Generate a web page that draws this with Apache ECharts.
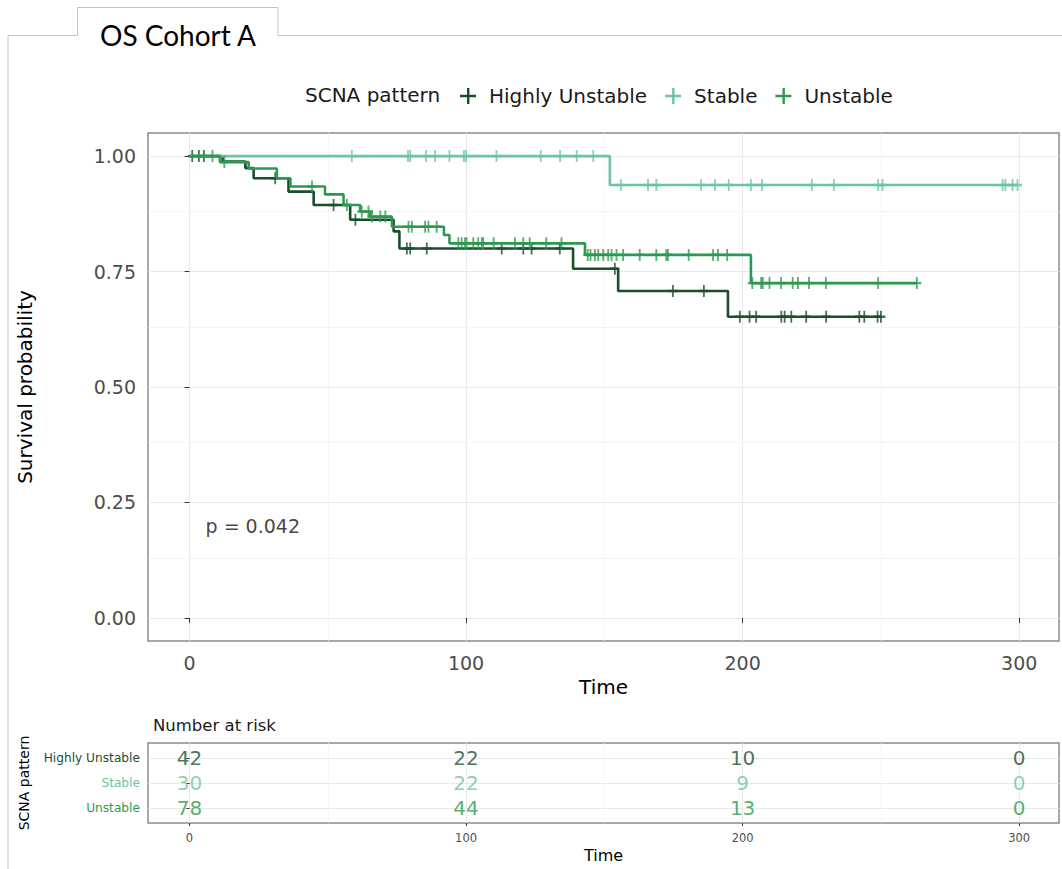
<!DOCTYPE html>
<html>
<head>
<meta charset="utf-8">
<title>OS Cohort A</title>
<script src="https://cdn.jsdelivr.net/npm/echarts@6/dist/echarts.min.js"></script>
<style>
  html, body { margin: 0; padding: 0; background: #ffffff; }
  #chart { width: 1062px; height: 869px; }
</style>
</head>
<body>
<div id="chart"></div>
<script>
// ---- Kaplan–Meier estimates by SCNA pattern ----
// Each step: the time at which a survival level begins, and that level.
const groups = ['Highly Unstable', 'Stable', 'Unstable'];
const groupColors = ['#1a4f2d', '#6cc5a0', '#2c9a4e'];

const huTimes = [0, 12, 20.2, 23.2, 35.8, 44.9, 58.1, 73.8, 75.9, 138.7, 155, 194.7, 250];
const huSurv  = [1, 0.988, 0.974, 0.952, 0.923, 0.894, 0.862, 0.837, 0.80, 0.756, 0.708, 0.652, 0.652];
const huCensor = [1, 3.4, 5.2, 31, 52.1, 60, 78.6, 79.8, 85.8, 112.9, 120.7, 123.7, 133.9, 153.8,
  174.8, 186, 199, 202.5, 204.9, 214, 215.2, 217.6, 223, 230.2, 242.2, 244, 248.8, 250];

const stTimes = [0, 152, 299.4];
const stSurv  = [1, 0.9375, 0.9375];
const stCensor = [58.7, 79, 79.8, 85.5, 88.8, 94, 99.2, 100, 111, 127, 134, 140, 146, 156, 165.8,
  168.8, 185, 190, 195, 203, 207, 225, 233, 249, 250.6, 294, 295, 297.6, 299.4];

const unTimes = [0, 11, 21.4, 31.6, 36.5, 49, 55.7, 61.7, 65.3, 73.2, 92, 94, 143, 203, 263];
const unSurv  = [1, 0.987, 0.973, 0.952, 0.934, 0.917, 0.894, 0.88, 0.869, 0.847, 0.829, 0.811, 0.786, 0.725, 0.725];
const unCensor = [8.3, 12.6, 44.3, 56.9, 62.3, 64.7, 66, 69, 70.8, 79.2, 80.4, 85.2, 86.4, 89.4, 97.2,
  98.4, 99.6, 100.2, 102.6, 104.4, 105.7, 106.2, 110, 117.7, 120.7, 123, 129, 134.5, 144, 145, 146.6,
  147.8, 149.6, 151.4, 152.6, 154.4, 156.8, 162.8, 168.8, 172.4, 173, 180.5, 189.3, 191.1, 194.4,
  203.5, 206.7, 207.3, 209.7, 213.9, 218.1, 220, 224, 230.1, 249, 263];

// ---- axes ----
const xTicks = [0, 100, 200, 300];
const xMinor = [50, 150, 250];
const yTicks = [0, 0.25, 0.5, 0.75, 1];
const yMinor = [0.125, 0.375, 0.625, 0.875];

// ---- number at risk ----
const riskTimes = [0, 100, 200, 300];
const riskHU = [42, 22, 10, 0];
const riskStable = [30, 22, 9, 0];
const riskUnstable = [78, 44, 13, 0];
const riskRows = { 'Highly Unstable': 3, 'Stable': 2, 'Unstable': 1 };

const pValueText = 'p = 0.042';
const pValuePos = [5.8, 0.2];

// ---------------------------------------------------------------
const FONT = 'DejaVu Sans';
const X_MIN = -15, X_MAX = 314.4;
const plusIcon = 'path://M4,0h2v10h-2zM0,4h10v2h-10z';
const legendIcon = 'path://M7,0h2.4v16h-2.4zM0,6.8h16v2.4h-16z';

function survAt(times, surv, t) {
  let s = surv[0];
  for (let i = 0; i < times.length; i++) {
    if (times[i] <= t) s = surv[i]; else break;
  }
  return s;
}

const curveData = [
  { times: huTimes, surv: huSurv, censor: huCensor },
  { times: stTimes, surv: stSurv, censor: stCensor },
  { times: unTimes, surv: unSurv, censor: unCensor }
];
const riskData = [riskHU, riskStable, riskUnstable];

function gridLines(vals, axisKey, major) {
  return vals.map(v => ({
    [axisKey]: v,
    lineStyle: { color: major ? '#e9e9e9' : '#f3f3f3', width: major ? 1.1 : 0.8, type: 'solid' }
  }));
}

const series = [];

// background grid for the survival panel (kept beneath the curves)
series.push({
  type: 'line', xAxisIndex: 0, yAxisIndex: 0, data: [], z: 0, silent: true,
  markLine: {
    z: 0, silent: true, symbol: 'none', animation: false, label: { show: false },
    data: [].concat(
      gridLines(xTicks, 'xAxis', true), gridLines(xMinor, 'xAxis', false),
      gridLines(yTicks, 'yAxis', true), gridLines(yMinor, 'yAxis', false))
  }
});
// background grid for the risk table
series.push({
  type: 'line', xAxisIndex: 1, yAxisIndex: 1, data: [], z: 0, silent: true,
  markLine: {
    z: 0, silent: true, symbol: 'none', animation: false, label: { show: false },
    data: [].concat(
      gridLines(xTicks, 'xAxis', true), gridLines(xMinor, 'xAxis', false),
      gridLines(Object.values(riskRows), 'yAxis', true))
  }
});

groups.forEach((name, gi) => {
  const c = curveData[gi];
  const color = groupColors[gi];
  series.push({
    name: name, type: 'line', step: 'end', xAxisIndex: 0, yAxisIndex: 0,
    showSymbol: false, symbol: 'none', z: 3 + gi,
    lineStyle: { color: color, width: 2.6 },
    itemStyle: { color: color },
    data: c.times.map((t, i) => [t, c.surv[i]])
  });
  series.push({
    name: name, type: 'scatter', xAxisIndex: 0, yAxisIndex: 0, z: 3 + gi,
    symbol: plusIcon, symbolSize: [9, 12],
    itemStyle: { color: color },
    data: c.censor.map(t => [t, survAt(c.times, c.surv, t)])
  });
  // number at risk row
  series.push({
    name: name, type: 'scatter', xAxisIndex: 1, yAxisIndex: 1, z: 5,
    symbolSize: 0, itemStyle: { color: color },
    label: {
      show: true, position: 'inside', color: color, fontSize: 20, fontFamily: FONT,
      formatter: p => String(p.value[2])
    },
    data: riskTimes.map((t, i) => [t, riskRows[name], riskData[gi][i]])
  });
});

// log-rank p-value annotation
series.push({
  type: 'scatter', xAxisIndex: 0, yAxisIndex: 0, symbolSize: 0, z: 6, silent: true,
  label: {
    show: true, position: 'right', distance: 0, color: '#111', fontSize: 19, fontFamily: FONT,
    formatter: () => pValueText
  },
  data: [pValuePos]
});

const tickStyle = { color: '#333333', width: 1 };

const option = {
  animation: false,
  backgroundColor: '#ffffff',
  textStyle: { fontFamily: FONT },
  title: [
    { text: 'OS Cohort A', left: 95, top: 16,
      textStyle: { fontFamily: 'Lato', fontSize: 28, fontWeight: 'normal', color: '#000' } },
    { text: 'SCNA pattern', left: 300, top: 80,
      textStyle: { fontFamily: FONT, fontSize: 20, fontWeight: 'normal', color: '#1a1a1a' } },
    { text: 'Number at risk', left: 148, top: 712,
      textStyle: { fontFamily: FONT, fontSize: 16.5, fontWeight: 'normal', color: '#1a1a1a' } }
  ],
  legend: {
    left: 455, top: 81, itemWidth: 16, itemHeight: 16, itemGap: 18,
    selectedMode: false,
    textStyle: { fontFamily: FONT, fontSize: 20, color: '#1a1a1a', padding: [0, 0, 0, 8] },
    data: groups.map(g => ({ name: g, icon: legendIcon }))
  },
  graphic: [{
    type: 'polyline', silent: true, z: 100,
    shape: { points: [[8, 869], [8, 35.5], [77.5, 35.5], [77.5, 7.5], [278, 7.5], [278, 35.5], [1062, 35.5]] },
    style: { stroke: '#c4c4c4', lineWidth: 1, fill: null }
  }],
  grid: [
    { left: 148, top: 133, width: 911, height: 508, show: true, borderColor: '#8c8c8c', borderWidth: 1.5, backgroundColor: 'transparent' },
    { left: 148, top: 743, width: 911, height: 80, show: true, borderColor: '#8c8c8c', borderWidth: 1.5, backgroundColor: 'transparent' }
  ],
  xAxis: [
    {
      type: 'value', gridIndex: 0, min: X_MIN, max: X_MAX,
      axisLine: { show: false }, splitLine: { show: false },
      axisTick: { show: true, length: 5, customValues: xTicks, lineStyle: tickStyle },
      axisLabel: { customValues: xTicks, fontSize: 19, color: '#4d4d4d', margin: 12, fontFamily: FONT },
      name: 'Time', nameLocation: 'middle', nameGap: 32,
      nameTextStyle: { fontSize: 20, color: '#000', fontFamily: FONT }
    },
    {
      type: 'value', gridIndex: 1, min: X_MIN, max: X_MAX,
      axisLine: { show: false }, splitLine: { show: false },
      axisTick: { show: true, length: 3, customValues: xTicks, lineStyle: tickStyle },
      axisLabel: { customValues: xTicks, fontSize: 11.5, color: '#4d4d4d', margin: 9, fontFamily: FONT },
      name: 'Time', nameLocation: 'middle', nameGap: 24,
      nameTextStyle: { fontSize: 16, color: '#000', fontFamily: FONT }
    }
  ],
  yAxis: [
    {
      type: 'value', gridIndex: 0, min: -0.05, max: 1.05,
      axisLine: { show: false }, splitLine: { show: false },
      axisTick: { show: true, length: 5, customValues: yTicks, lineStyle: tickStyle },
      axisLabel: { customValues: yTicks, fontSize: 19, color: '#4d4d4d', margin: 12, fontFamily: FONT,
        formatter: v => Number(v).toFixed(2) },
      name: 'Survival probability', nameLocation: 'middle', nameGap: 113, nameRotate: 90,
      nameTextStyle: { fontSize: 20, color: '#000', fontFamily: FONT }
    },
    {
      type: 'value', gridIndex: 1, min: 0.4, max: 3.6,
      axisLine: { show: false }, splitLine: { show: false },
      axisTick: { show: true, length: 3, customValues: Object.values(riskRows), lineStyle: tickStyle },
      axisLabel: {
        customValues: Object.values(riskRows), fontSize: 12.2, margin: 8, fontFamily: FONT,
        formatter: v => groups.find(g => riskRows[g] === Number(v)) || '',
        color: v => groupColors[groups.findIndex(g => riskRows[g] === Number(v))] || '#333'
      },
      name: 'SCNA pattern', nameLocation: 'middle', nameGap: 117, nameRotate: 90,
      nameTextStyle: { fontSize: 14, color: '#000', fontFamily: FONT }
    }
  ],
  series: series
};

const chart = echarts.init(document.getElementById('chart'), null, { renderer: 'svg' });
chart.setOption(option);
</script>
</body>
</html>
